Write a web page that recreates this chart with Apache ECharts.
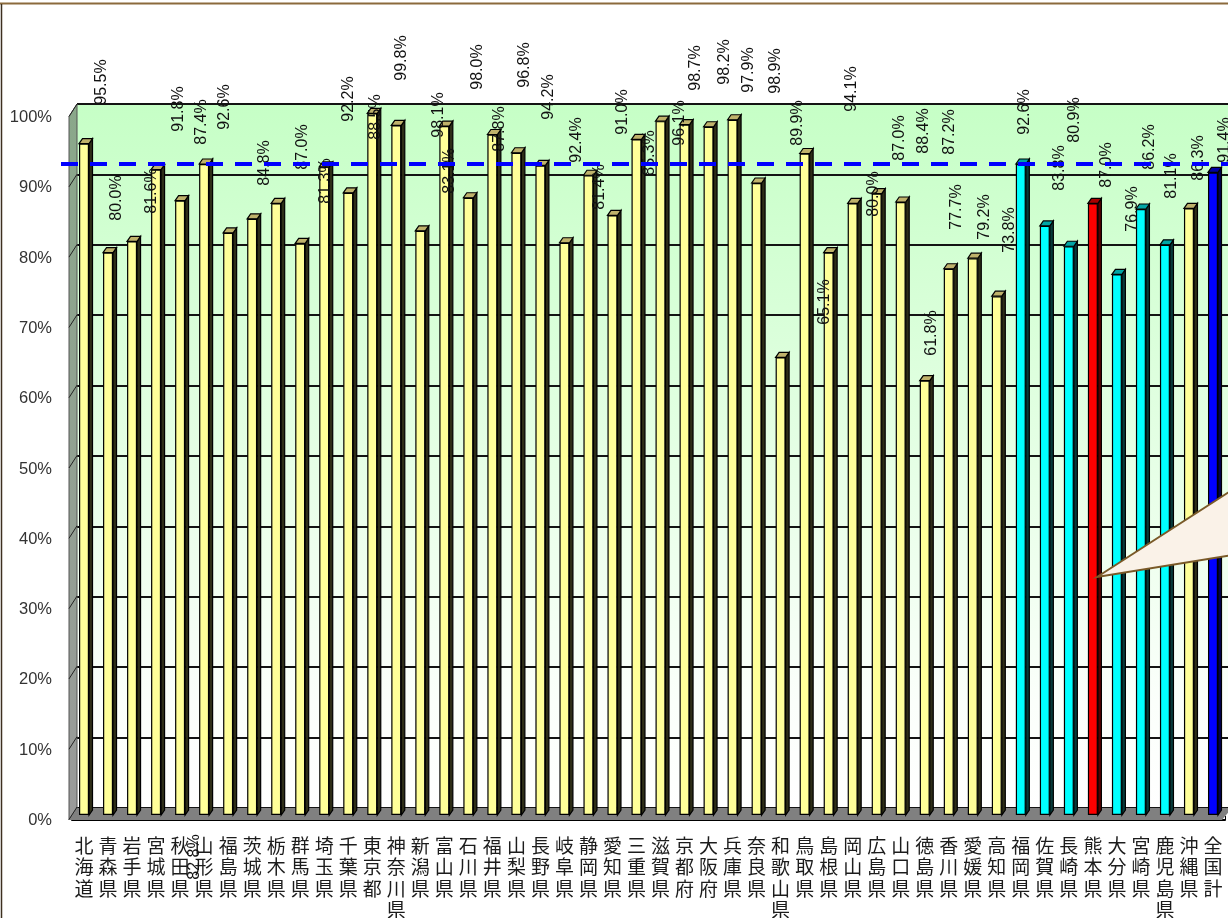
<!DOCTYPE html>
<html><head><meta charset="utf-8">
<style>html,body{margin:0;padding:0;background:#fff}#c{width:1228px;height:918px}</style>
<script src="https://cdn.jsdelivr.net/npm/echarts@6/dist/echarts.min.js"></script>
</head><body><div id="c"></div>
<script>
const categories = ['北海道','青森県','岩手県','宮城県','秋田県','山形県','福島県','茨城県','栃木県','群馬県','埼玉県','千葉県','東京都','神奈川県','新潟県','富山県','石川県','福井県','山梨県','長野県','岐阜県','静岡県','愛知県','三重県','滋賀県','京都府','大阪府','兵庫県','奈良県','和歌山県','鳥取県','島根県','岡山県','広島県','山口県','徳島県','香川県','愛媛県','高知県','福岡県','佐賀県','長崎県','熊本県','大分県','宮崎県','鹿児島県','沖縄県','全国計'];
const values = [95.5,80.0,81.6,91.8,87.4,92.6,82.8,84.8,87.0,81.3,92.2,88.5,99.8,98.1,83.1,98.0,87.8,96.8,94.2,92.4,81.4,91.0,85.3,96.1,98.7,98.2,97.9,98.9,89.9,65.1,94.1,80.0,87.0,88.4,87.2,61.8,77.7,79.2,73.8,92.6,83.8,80.9,87.0,76.9,86.2,81.1,86.3,91.4];
const referenceValue = 92.6;
const yTicks = [0,10,20,30,40,50,60,70,80,90,100];
const kyushu = ['福岡県','佐賀県','長崎県','大分県','宮崎県','鹿児島県'];
const highlight = ['熊本県'];
const total = ['全国計'];

// hand-placed data label centres of the original chart
const labelCx = [100,115,150,177,200,223,193,263,301,324,347,374,400,437,448,476,498,523,547,575,598,621,648,678,694,723,747,774,796,823,850,872,898,922,948,930,955,983,1008,1023,1058,1073,1105,1131,1148,1170,1197,1223];
const labelCy = [82,198,191,109,122,107,857,163,147,181,99,117,58,115,171,67,129,65,97,140,187,112,153,123,68,62,70,71,123,302,89,194,138,131,132,333,207,217,230,112,168,120,165,209,147,176,158,140];

const palette = {
  normal:{front:'#FFFF99',side:'#2E2E18',top:'#BFB26B'},
  kyushu:{front:'#00FFFF',side:'#063A3A',top:'#00A5A5'},
  highlight:{front:'#FF0000',side:'#5A0000',top:'#A80000'},
  total:{front:'#0000FF',side:'#000050',top:'#0000A0'}
};
const tone = n => kyushu.includes(n)?palette.kyushu:highlight.includes(n)?palette.highlight:total.includes(n)?palette.total:palette.normal;

const chart = echarts.init(document.getElementById('c'),null,{renderer:'canvas'});
const DX=3.5, DY=5, HW=5;
chart.setOption({
  animation:false,
  backgroundColor:'#fff',
  grid:[
    {left:77,top:104,width:1151,height:704,show:true,borderWidth:0,outerBoundsMode:'none',
     backgroundColor:{type:'linear',x:0,y:0,x2:0,y2:1,colorStops:[{offset:0,color:'#C6FFC6'},{offset:0.85,color:'#FBFFFB'},{offset:1,color:'#FFFFFF'}]}},
    {left:72,top:112,width:1153,height:703,outerBoundsMode:'none'},
    {left:72,top:117.5,width:1153,height:703,outerBoundsMode:'none'}
  ],
  xAxis:[
    {gridIndex:0,type:'category',data:categories,show:false},
    {gridIndex:1,type:'category',data:categories,position:'bottom',offset:5,
     axisLine:{onZero:false,lineStyle:{color:'#000',width:2}},
     axisTick:{show:true,inside:true,length:4,lineStyle:{color:'#000'},interval:0},
     axisLabel:{interval:0,margin:15,fontFamily:'"Noto Sans CJK JP"',fontSize:19,lineHeight:21.5,color:'#1c1c1c',
       formatter:s=>s.split('').join('\n')}},
    {gridIndex:2,type:'category',data:categories,show:false}
  ],
  yAxis:[
    {gridIndex:0,type:'value',min:0,max:100,interval:10,axisLine:{show:false},axisTick:{show:false},axisLabel:{show:false},
     splitLine:{show:true,lineStyle:{color:'#141414',width:2}}},
    {gridIndex:1,type:'value',min:0,max:100,interval:10,show:false},
    {gridIndex:2,type:'value',min:0,max:100,interval:10,axisLine:{show:false},axisTick:{show:false},splitLine:{show:false},
     axisLabel:{margin:20,fontFamily:'"Liberation Sans"',fontSize:16.5,color:'#333',formatter:'{value}%'}}
  ],
  series:[
    {type:'custom',name:'walls',xAxisIndex:1,yAxisIndex:1,z:1,silent:true,
     data:yTicks.map(v=>[0,v]),encode:{x:0,y:1},
     renderItem(params,api){
       const v=api.value(1), y=api.coord([0,v])[1], cs=params.coordSys, L=cs.x-3, R=cs.x+5, bottom=cs.y+cs.height;
       const kids=[{type:'line',shape:{x1:L,y1:y+4.5,x2:R,y2:y-8},style:{stroke:'#222',lineWidth:1}}];
       if(v===0){
         kids.unshift(
           {type:'polygon',shape:{points:[[L,cs.y+4.5],[R,cs.y-8],[R,bottom-7],[L,bottom+5]]},
            style:{fill:{type:'linear',x:0,y:0,x2:0,y2:1,colorStops:[{offset:0,color:'#8AA88A'},{offset:1,color:'#9A9A9A'}]},stroke:'#555',lineWidth:1}},
           {type:'polygon',shape:{points:[[R,bottom-7],[cs.x+cs.width+7,bottom-7],[cs.x+cs.width-3,bottom+5],[L,bottom+5]]},
            style:{fill:'#808080'}});
       }
       return {type:'group',children:kids};
     }},
    {type:'custom',name:'depth',xAxisIndex:1,yAxisIndex:1,z:2,silent:true,
     data:values.map((v,i)=>[i,v]),encode:{x:0,y:1},
     renderItem(params,api){
       const i=api.value(0),p=api.coord([i,api.value(1)]),b=api.coord([i,0]),t=tone(categories[i]),x=p[0],y=p[1];
       return {type:'group',children:[
         {type:'polygon',shape:{points:[[x+HW,y],[x+HW+DX,y-DY],[x+HW+DX,b[1]-DY],[x+HW,b[1]]]},style:{fill:t.side,stroke:'#000',lineWidth:1.2}},
         {type:'polygon',shape:{points:[[x-HW,y],[x-HW+DX,y-DY],[x+HW+DX,y-DY],[x+HW,y]]},style:{fill:t.top,stroke:'#000',lineWidth:1.2}}
       ]};
     }},
    {type:'bar',name:'率',xAxisIndex:1,yAxisIndex:1,z:3,barWidth:10,
     data:values.map((v,i)=>({value:v,itemStyle:{color:tone(categories[i]).front}})),
     itemStyle:{borderColor:'#000',borderWidth:1.2},
     label:{show:true,position:'top',rotate:90,fontFamily:'"Liberation Sans"',fontSize:16,color:'#111',
       formatter:p=>p.value.toFixed(1)+'%'},
     labelLayout:p=>({x:labelCx[p.dataIndex]+2,y:labelCy[p.dataIndex],align:'center',verticalAlign:'middle'}),
     markLine:{silent:true,symbol:'none',z:6,label:{show:false},
       lineStyle:{color:'#0000FF',width:4,type:[17,12]},
       data:[[{x:61,yAxis:referenceValue},{x:1228,yAxis:referenceValue}]]}}
  ],
  graphic:[
    {type:'line',z:50,shape:{x1:0,y1:3.5,x2:1228,y2:3.5},style:{stroke:'#8B6A3C',lineWidth:2}},
    {type:'line',z:50,shape:{x1:1.5,y1:4,x2:1.5,y2:918},style:{stroke:'#3D3020',lineWidth:1.5}},
    {type:'polygon',z:100,shape:{points:[[1097,577],[1232,490],[1232,555]]},style:{fill:'#FAF2E8',stroke:'#7A5A28',lineWidth:2}}
  ]
});
</script></body></html>
